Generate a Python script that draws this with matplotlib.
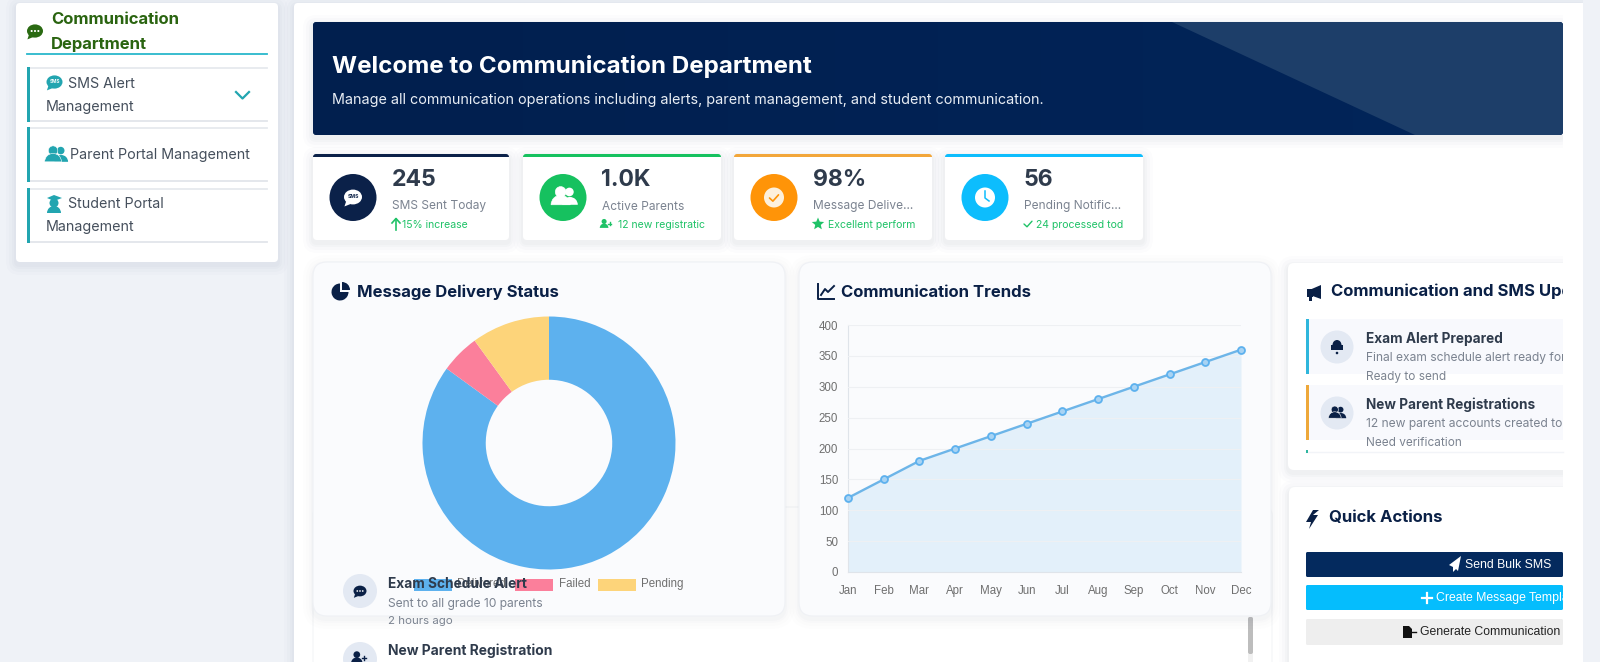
import numpy as np
import matplotlib
matplotlib.use("Agg")
import matplotlib.pyplot as plt
from matplotlib.colors import LinearSegmentedColormap
from matplotlib.patches import FancyBboxPatch, Rectangle, Circle, Polygon, Ellipse, Wedge

plt.rcParams['font.family'] = ['Inter', 'DejaVu Sans']

# chart data
status_labels = ["Delivered", "Failed", "Pending"]
status_values = [85, 5, 10]
status_colors = ["#5db1ee", "#fb7f9b", "#fdd47a"]

months = ["Jan", "Feb", "Mar", "Apr", "May", "Jun", "Jul", "Aug", "Sep", "Oct", "Nov", "Dec"]
trend_values = [120, 150, 180, 200, 220, 240, 260, 280, 300, 320, 340, 360]
trend_ticks = [0, 50, 100, 150, 200, 250, 300, 350, 400]

# stat cards
stat_values = ["245", "1.0K", "98%", "56"]
stat_labels = ["SMS Sent Today", "Active Parents", "Message Delive...", "Pending Notific..."]
stat_notes = ["15% increase", "12 new registratic", "Excellent perform", "24 processed tod"]
stat_colors = ["#0b2149", "#16c15f", "#ff9408", "#0dbdfd"]
stat_lefts = [313, 523, 734, 945]

NAVY = "#0a2046"
TEAL = "#22a5b0"
DARK = "#2f3b4c"
GRAY = "#7b8390"
GREEN = "#1fc267"

W, H = 1600, 662
fig = plt.figure(figsize=(16, 6.62), dpi=100, facecolor="#eff2f7")


def layer(z):
    ax = fig.add_axes([0, 0, 1, 1], zorder=z)
    ax.set_xlim(0, W)
    ax.set_ylim(H, 0)
    ax.axis("off")
    ax.patch.set_alpha(0)
    return ax


def card(ax, x0, y0, x1, y1, color="white", r=8, edge="none", z=1, shadow=1.0):
    if shadow:
        for grow, a in ((10, 0.012), (7, 0.014), (4, 0.018), (2, 0.02)):
            ax.add_patch(FancyBboxPatch((x0 - grow, y0 - grow + 3), x1 - x0 + 2 * grow, y1 - y0 + 2 * grow,
                                        boxstyle=f"round,pad=0,rounding_size={r + grow}",
                                        fc="#2a3a5a", ec="none", alpha=a * shadow, zorder=z))
    ax.add_patch(FancyBboxPatch((x0, y0), x1 - x0, y1 - y0, boxstyle=f"round,pad=0,rounding_size={r}",
                                fc=color, ec=edge, lw=0.8, zorder=z))


def label(ax, x, y, s, size, color=DARK, weight="normal", ha="left", z=6, clip=None, family=None):
    t = ax.text(x, y, s, fontsize=size, color=color, fontweight=weight, ha=ha, va="center", zorder=z)
    if family:
        t.set_fontfamily(family)
    if clip is not None:
        t.set_clip_on(True)
        t.set_clip_path(Rectangle((clip[0], 0), clip[1] - clip[0], H, transform=ax.transData))
    return t


def bubble(ax, x, y, s, color, z=6, inner=None):
    ax.add_patch(Ellipse((x, y), 2 * s, 1.65 * s, fc=color, ec="none", zorder=z))
    ax.add_patch(Polygon([[x - s * 0.75, y + s * 0.45], [x - s * 0.95, y + s * 1.05], [x - s * 0.2, y + s * 0.75]],
                         fc=color, ec="none", zorder=z))
    if inner:
        for dx in (-0.42, 0, 0.42):
            ax.add_patch(Circle((x + dx * s, y), s * 0.13, fc=inner, ec="none", zorder=z + 1))


def users(ax, x, y, s, color, z=6):
    # two little people
    ax.add_patch(Circle((x + s * 0.45, y - s * 0.42), s * 0.36, fc=color, ec="none", zorder=z))
    ax.add_patch(Wedge((x + s * 0.5, y + s * 0.65), s * 0.65, 180, 360, fc=color, ec="none", zorder=z))
    ax.add_patch(Circle((x - s * 0.28, y - s * 0.42), s * 0.45, fc=color, ec="white", lw=0.4, zorder=z + 1))
    ax.add_patch(Wedge((x - s * 0.28, y + s * 0.65), s * 0.8, 180, 360, fc=color, ec="white", lw=0.4, zorder=z + 1))


def user_plus(ax, x, y, s, color, z=6):
    ax.add_patch(Circle((x - s * 0.15, y - s * 0.42), s * 0.42, fc=color, ec="none", zorder=z))
    ax.add_patch(Wedge((x - s * 0.15, y + s * 0.65), s * 0.72, 180, 360, fc=color, ec="none", zorder=z))
    ax.plot([x + s * 0.55, x + s * 1.05], [y - s * 0.05] * 2, color=color, lw=1, zorder=z)
    ax.plot([x + s * 0.8, x + s * 0.8], [y - s * 0.3, y + s * 0.2], color=color, lw=1, zorder=z)


def check(ax, x, y, s, color, lw=1.2, z=7):
    ax.plot([x - s, x - s * 0.25, x + s], [y, y + s * 0.7, y - s * 0.7], color=color, lw=lw, zorder=z,
            solid_capstyle="round")


def star(ax, x, y, s, color, z=6):
    ang = np.deg2rad(np.arange(10) * 36 - 90)
    rad = np.where(np.arange(10) % 2 == 0, s, s * 0.45)
    ax.add_patch(Polygon(np.c_[x + rad * np.cos(ang), y + rad * np.sin(ang)], fc=color, ec="none", zorder=z))


bg = layer(0)

# left sidebar
card(bg, 16, 3, 278, 262, r=4)
bubble(bg, 35, 31, 8, "#2a6a12", inner="white")
label(bg, 51, 19.5, "Communication", 12, "#2a6410", "bold")
label(bg, 51, 44.5, "Department", 12, "#2a6410", "bold")
bg.plot([27, 267], [54, 54], color="#29b7cc", lw=1.3, zorder=4)
for y_top, y_bottom in ((67, 122), (127, 182), (188, 243)):
    bg.add_patch(Rectangle((27, y_top), 3, y_bottom - y_top, fc=TEAL, ec="none", zorder=4))
    bg.plot([30, 267], [y_top + 1, y_top + 1], color="#e6e9ee", lw=1.3, zorder=3)
    bg.plot([30, 267], [y_bottom - 1, y_bottom - 1], color="#e2e5ea", lw=1.3, zorder=3)
bubble(bg, 54.5, 82, 8, TEAL)
label(bg, 54.5, 81.5, "SMS", 3.4, "white", "bold", ha="center", z=8)
label(bg, 68.5, 84.5, "SMS Alert", 10.3, "#454f5c")
label(bg, 45.5, 106.5, "Management", 10.3, "#454f5c")
bg.plot([236, 242.5, 249], [92, 98.5, 92], color=TEAL, lw=1.6, zorder=6)
users(bg, 56, 155, 10.5, TEAL)
label(bg, 70.5, 155.5, "Parent Portal Management", 10.3, "#454f5c")
bg.add_patch(Polygon([[47, 198], [54, 195], [62, 198], [54, 201]], fc=TEAL, ec="none", zorder=6))
bg.add_patch(Circle((54, 203), 4.5, fc=TEAL, ec="none", zorder=5))
bg.add_patch(Wedge((54, 213), 7, 180, 360, fc=TEAL, ec="none", zorder=5))
label(bg, 68.5, 204.5, "Student Portal", 10.3, "#454f5c")
label(bg, 45.5, 226.5, "Management", 10.3, "#454f5c")

# main white panel
card(bg, 294, 3, 1583, 700, r=4)
# soft shadow under the banner
card(bg, 313, 22, 1563, 135, color="#1d3e69", r=3, z=2)

# welcome banner with a gradient and the lighter diagonal
ban_ax = fig.add_axes([313 / W, 1 - 135 / H, 1250 / W, 113 / H], zorder=1)
grad = np.linspace(0, 1, 256)[None, :]
im = ban_ax.imshow(grad, extent=[313, 1563, 135, 22], aspect="auto",
                   cmap=LinearSegmentedColormap.from_list("b", ["#021f4e", "#01255a"]))
diag = Polygon([[1172, 22], [1563, 22], [1563, 135], [1415, 135]], fc="#1d3e69", ec="none")
ban_ax.add_patch(diag)
ban_ax.set_xlim(313, 1563)
ban_ax.set_ylim(135, 22)
ban_ax.axis("off")
round_clip = FancyBboxPatch((313, 22), 1250, 113, boxstyle="round,pad=0,rounding_size=4", transform=ban_ax.transData)
im.set_clip_path(round_clip)
diag.set_clip_path(round_clip)

hdr = layer(2)
label(hdr, 332, 66, "Welcome to Communication Department", 17.4, "white", "bold")
label(hdr, 332, 100, "Manage all communication operations including alerts, parent management, and student communication.",
      10.35, "#e9eef5")

# stat cards
for i, left in enumerate(stat_lefts):
    col = stat_colors[i]
    right = left + 198 if i else left + 196
    card(hdr, left, 154, right, 240, r=4)
    hdr.add_patch(FancyBboxPatch((left, 154), right - left, 6, boxstyle="round,pad=0,rounding_size=3",
                                 fc=col if i != 2 else "#f2a63a", ec="none", zorder=2))
    hdr.add_patch(Rectangle((left, 157), right - left, 6, fc="white", ec="none", zorder=3))
    cx = left + 40
    hdr.add_patch(Circle((cx, 197.5), 23.5, fc=col, ec="none", zorder=4))
    label(hdr, left + 78.5, 180.5, stat_values[i], 16.6, DARK, "bold")
    label(hdr, left + 79, 206.5, stat_labels[i], 8.6, GRAY)
    note_x = left + (89, 95, 94, 91)[i]
    label(hdr, note_x, 224.5, stat_notes[i], 7.55, GREEN)
    ix = left + 78
    if i == 0:
        hdr.plot([ix + 5, ix + 5], [219, 230], color=GREEN, lw=1.2, zorder=6)
        hdr.plot([ix + 1, ix + 5, ix + 9], [223, 218.5, 223], color=GREEN, lw=1.2, zorder=6)
        bubble(hdr, cx, 197, 9, "white")
        label(hdr, cx, 196.5, "SMS", 3.6, NAVY, "bold", ha="center", z=8)
    elif i == 1:
        user_plus(hdr, ix + 4, 224, 6, GREEN)
        users(hdr, cx + 1, 197, 12, "white")
    elif i == 2:
        star(hdr, ix + 6, 224, 6.5, GREEN)
        hdr.add_patch(Circle((cx, 197.5), 10, fc="#fdf0dc", ec="none", zorder=5))
        check(hdr, cx, 198, 4.5, "#ff9408", 1.2)
    else:
        check(hdr, ix + 5, 224, 4, GREEN, 1.0)
        hdr.add_patch(Circle((cx, 197.5), 10, fc="white", ec="none", zorder=5))
        hdr.plot([cx, cx, cx + 4], [191, 198, 201], color="#0dbdfd", lw=1.1, zorder=6)

# recent activity card sits underneath the chart cards
card(hdr, 313, 507, 1272, 700, r=8, z=1, edge="#f4f5f7", shadow=0)
hdr.add_patch(Rectangle((1248, 617), 5, 50, fc="#f1f1f1", ec="none", zorder=2))
hdr.add_patch(FancyBboxPatch((1248, 617), 5, 37, boxstyle="round,pad=0,rounding_size=2",
                             fc="#bdbdbd", ec="none", zorder=2))

# chart cards
for x0, x1 in ((313, 785), (799, 1271)):
    card(hdr, x0, 262, x1, 616, color="#fafbfd", r=14, edge="#eff1f5", z=3, shadow=0.7)

# doughnut
d_ax = fig.add_axes([(549 - 130) / W, 1 - (443 + 130) / H, 260 / W, 260 / H], zorder=4)
d_ax.pie(status_values, colors=status_colors, startangle=90, counterclock=False, radius=1,
         wedgeprops=dict(width=0.5, edgecolor="none"))
d_ax.set_xlim(-130 / 126.5, 130 / 126.5)
d_ax.set_ylim(-130 / 126.5, 130 / 126.5)
d_ax.set_aspect("equal")
d_ax.patch.set_alpha(0)

# line chart
t_ax = fig.add_axes([848 / W, 1 - 572 / H, (1241 - 848) / W, (572 - 325) / H], zorder=4)
t_ax.patch.set_alpha(0)
t_ax.fill_between(range(12), trend_values, 0, color="#e3f0fa", zorder=1, lw=0)
t_ax.plot(range(12), trend_values, color="#6db5e8", lw=1.7, marker="o", ms=5, mfc="#a8d3f3",
          mec="#5db1ee", mew=1.3, zorder=3, clip_on=False)
t_ax.set_xlim(0, 11)
t_ax.set_ylim(0, 400)
t_ax.set_yticks(trend_ticks)
t_ax.set_xticks(range(12))
t_ax.set_xticklabels(months)
t_ax.grid(axis="y", color="#eef0f3", lw=0.8, zorder=2)
t_ax.set_axisbelow(False)
t_ax.tick_params(axis="y", length=0, labelsize=8.3, labelcolor="#6f6f6f", pad=7)
t_ax.tick_params(axis="x", length=0, labelsize=8.3, labelcolor="#6f6f6f", pad=9.5)
for lbl in t_ax.get_xticklabels() + t_ax.get_yticklabels():
    lbl.set_fontfamily("Liberation Sans")
for name, spine in t_ax.spines.items():
    spine.set_visible(name in ("left", "bottom"))
    spine.set_color("#dfe4ea")
    spine.set_linewidth(0.8)

# top layer for what goes over the charts
top = layer(5)

# chart titles
top.add_patch(Wedge((340, 292), 8.5, 0, 270, fc=NAVY, ec="none", zorder=6))
top.add_patch(Wedge((342, 290), 8, 270, 360, fc=NAVY, ec="none", zorder=6))
label(top, 357, 292.5, "Message Delivery Status", 12, NAVY, "bold")
top.plot([818, 818, 834], [284, 299, 299], color=NAVY, lw=1.4, zorder=6)
top.plot([821, 825, 828, 834], [295, 289, 292, 286], color=NAVY, lw=1.4, zorder=6)
label(top, 841, 292.5, "Communication Trends", 12, NAVY, "bold")

# legend, drawn from the series names and colours
legend_lefts = [414, 515, 598]
for name, col, left in zip(status_labels, status_colors, legend_lefts):
    top.add_patch(Rectangle((left, 579), 38, 11.5, fc=col, ec="none", zorder=6))
    label(top, left + 43.5, 584, name, 8.3, "#6f6f6f", family="Liberation Sans")

# activity rows showing through over the doughnut card
top.add_patch(Circle((360, 591), 17, fc="#e3e9f3", ec="none", zorder=5))
top.add_patch(Circle((360, 659), 17, fc="#e3e9f3", ec="none", zorder=5))
bubble(top, 360, 591, 6.5, NAVY, z=7, inner="white")
label(top, 388, 584, "Exam Schedule Alert", 9.9, DARK, "bold", z=7)
label(top, 388, 603.5, "Sent to all grade 10 parents", 8.7, GRAY, z=7)
label(top, 388, 621.5, "2 hours ago", 8.25, GRAY, z=7)
user_plus(top, 358, 658, 8, NAVY, z=7)
label(top, 388, 650.5, "New Parent Registration", 10, DARK, "bold", z=7)

# right column
R_CLIP = (1288, 1563)
card(top, 1288, 263, 1590, 470, r=6, z=1)
card(top, 1289, 487, 1590, 700, r=6, z=1)
# content past the column edge is cut off by the page
top.add_patch(Rectangle((1563, 3), 20, 659, fc="white", ec="none", zorder=1.5))
top.add_patch(Rectangle((1583, 0), 17, 662, fc="#eff2f7", ec="none", zorder=1.5))
megaphone = [[1307, 291], [1321, 285], [1321, 299], [1307, 294]]
top.add_patch(Polygon(megaphone, fc=NAVY, ec="none", zorder=6))
top.add_patch(Rectangle((1306.5, 289), 6, 8, fc=NAVY, ec="none", zorder=6))
top.add_patch(Rectangle((1309, 296), 3, 4.5, fc=NAVY, ec="none", zorder=6))
label(top, 1331, 291.5, "Communication and SMS Upd", 12, NAVY, "bold", clip=R_CLIP)

rows = [(319, 374, "#2fb6dc", "Exam Alert Prepared", "Final exam schedule alert ready for", "Ready to send", 338.5, 358, 377),
        (385, 440, "#eea83a", "New Parent Registrations", "12 new parent accounts created to", "Need verification", 404.5, 424, 442.5)]
for y0, y1, col, head, sub, foot, yh, ys, yf in rows:
    top.add_patch(Rectangle((1306, y0), 257, y1 - y0, fc="#f8f9fd", ec="none", zorder=2))
    top.add_patch(Rectangle((1306, y0), 3, y1 - y0, fc=col, ec="none", zorder=3))
    top.add_patch(Circle((1337, (y0 + y1) / 2 + 0.5), 16.5, fc="#e3e9f3", ec="none", zorder=4))
    label(top, 1366, yh, head, 9.8, DARK, "bold", clip=R_CLIP)
    label(top, 1366, ys, sub, 8.7, GRAY, clip=R_CLIP)
    label(top, 1366, yf, foot, 8.5, GRAY, clip=R_CLIP)
top.add_patch(Rectangle((1306, 450), 2, 2.5, fc="#2fb6a0", ec="none", zorder=3))
top.plot([1306, 1563], [452, 452], color="#f2f4f8", lw=1, zorder=2)
# bell and users in the update rows
top.add_patch(Rectangle((1331, 345), 12, 4.5, fc=NAVY, ec="none", zorder=5))
top.add_patch(Ellipse((1337, 345), 9, 10, fc=NAVY, ec="none", zorder=5))
top.add_patch(Circle((1337, 353), 1.3, fc=NAVY, ec="none", zorder=6))
users(top, 1337, 413, 8, NAVY)

# quick actions
top.add_patch(Polygon([[1313, 510], [1306, 522], [1311, 522], [1309, 529], [1318, 515], [1313, 515], [1319, 510]],
                      fc=NAVY, ec="none", zorder=6))
label(top, 1329, 517.5, "Quick Actions", 12, NAVY, "bold")
buttons = [(552, 577, "#042a5e", "Send Bulk SMS", "white", 1465),
           (585, 610, "#05bdfd", "Create Message Templa", "white", 1436),
           (619, 645, "#eeeeee", "Generate Communication R", "#222222", 1420)]
for y0, y1, col, txt, tcol, tx in buttons:
    top.add_patch(FancyBboxPatch((1306, y0), 257, y1 - y0, boxstyle="round,pad=0,rounding_size=1.5",
                                 fc=col, ec="none", zorder=3))
    label(top, tx, (y0 + y1) / 2, txt, 8.8, tcol, clip=(1306, 1563), family="Liberation Sans")
top.add_patch(Polygon([[1461, 556], [1449, 565], [1453, 567], [1453, 572], [1456, 569], [1458, 571]],
                      fc="white", ec="none", zorder=6))
top.plot([1422, 1432], [597.5, 597.5], color="white", lw=1.6, zorder=6)
top.plot([1427, 1427], [592.5, 602.5], color="white", lw=1.6, zorder=6)
top.add_patch(Polygon([[1403, 626], [1409, 626], [1412, 629], [1412, 638], [1403, 638]], fc="#111111", ec="none", zorder=6))
top.plot([1412, 1416], [632, 632], color="#111111", lw=1, zorder=6)

fig.savefig("out.png", dpi=100, facecolor=fig.get_facecolor())
